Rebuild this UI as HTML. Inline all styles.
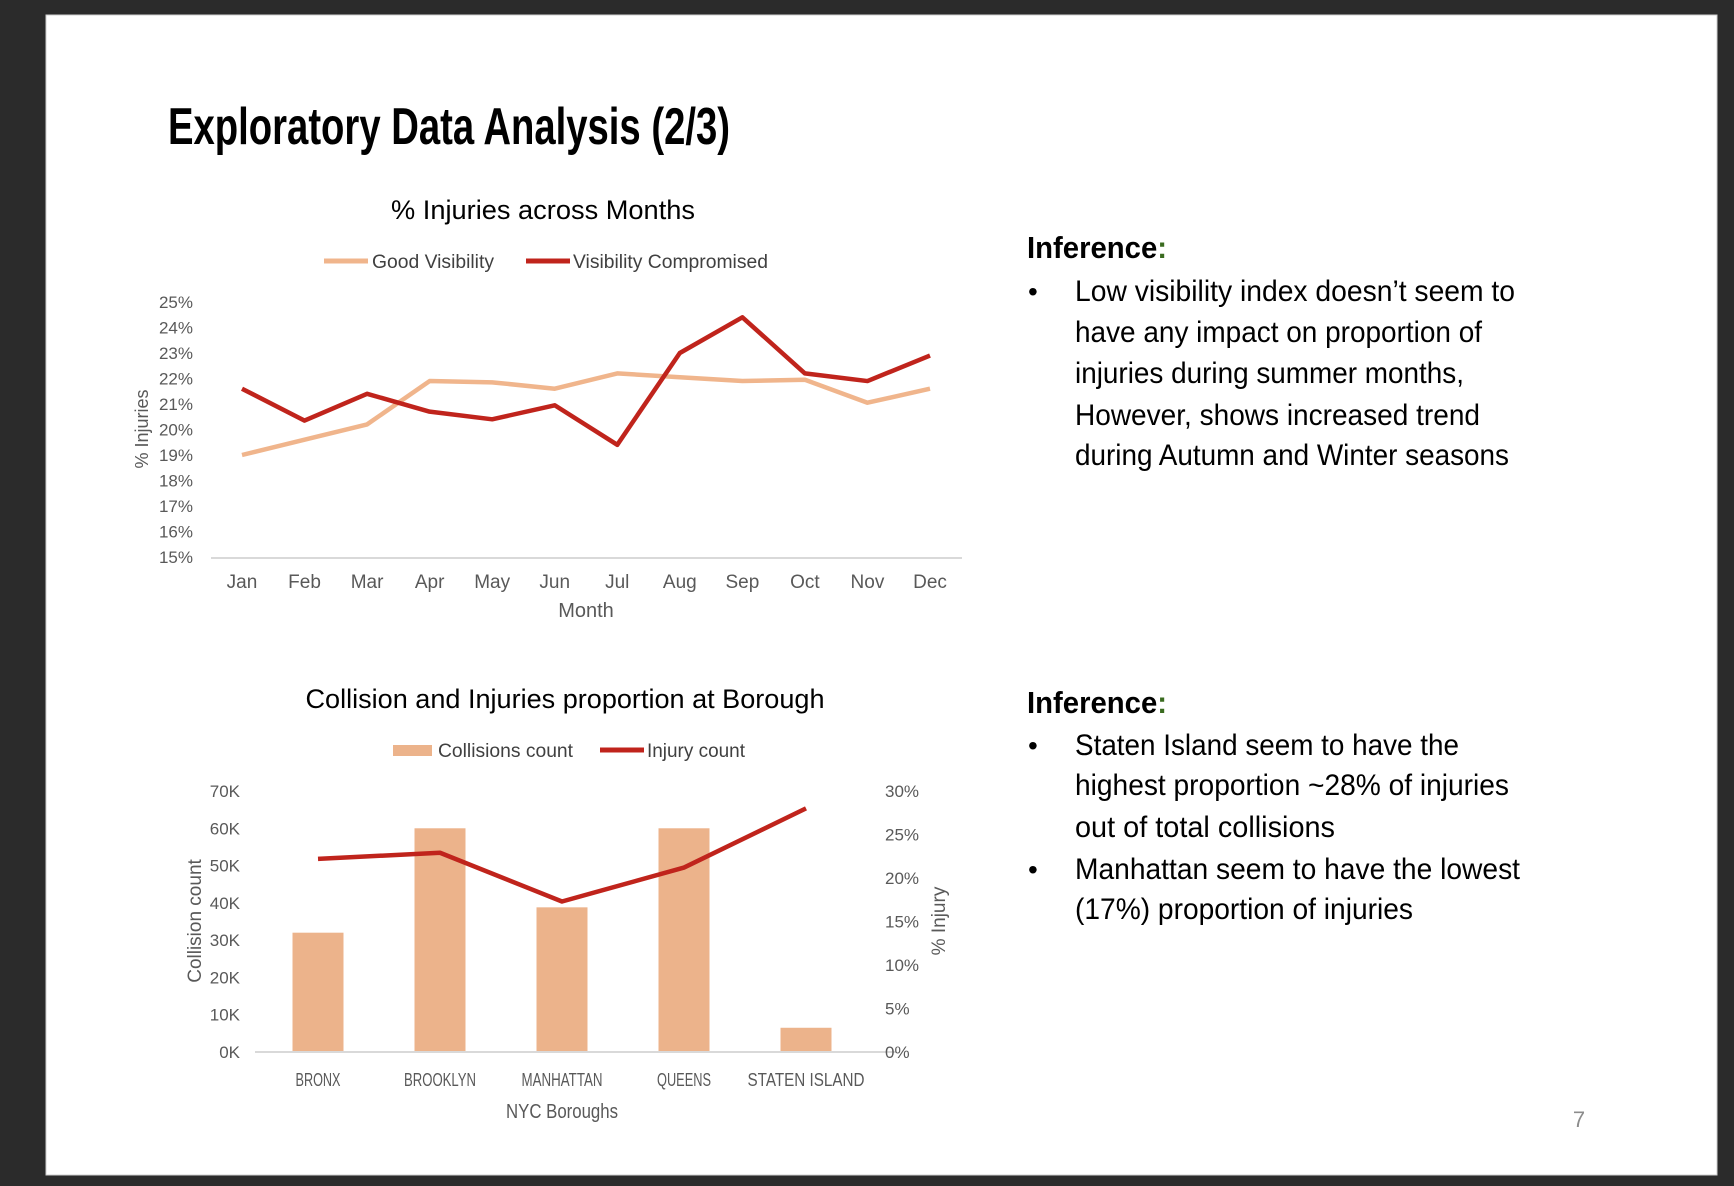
<!DOCTYPE html>
<html><head><meta charset="utf-8"><style>
html,body{margin:0;padding:0;background:#2b2b2b;}
svg{display:block;}
text{font-family:"Liberation Sans Narrow","Liberation Sans",sans-serif;}
</style></head><body>
<svg id="page" width="1734" height="1186" viewBox="0 0 1734 1186" xmlns="http://www.w3.org/2000/svg">
<rect x="0" y="0" width="1734" height="1186" fill="#2b2b2b"/>
<rect x="46" y="15" width="1671" height="1160" fill="#ffffff" stroke="#cfcfcf" stroke-width="1"/>
<text x="168" y="144" font-size="52" font-weight="bold" fill="#000" textLength="562" lengthAdjust="spacingAndGlyphs">Exploratory Data Analysis (2/3)</text>

<g id="chart1">
<text x="543" y="219" font-size="27" text-anchor="middle" fill="#000" textLength="304" lengthAdjust="spacingAndGlyphs">% Injuries across Months</text>
<line x1="324" y1="261" x2="368" y2="261" stroke="#F0B58C" stroke-width="5"/>
<text x="372" y="268" font-size="19" fill="#404040" textLength="122" lengthAdjust="spacingAndGlyphs">Good Visibility</text>
<line x1="526" y1="261" x2="570" y2="261" stroke="#C0241C" stroke-width="5"/>
<text x="573" y="268" font-size="19" fill="#404040" textLength="195" lengthAdjust="spacingAndGlyphs">Visibility Compromised</text>
<line x1="211" y1="558" x2="962" y2="558" stroke="#d9d9d9" stroke-width="2"/>
<text transform="translate(148,429) rotate(-90)" font-size="18" text-anchor="middle" fill="#595959">% Injuries</text>
<text x="586" y="617" font-size="20" text-anchor="middle" fill="#595959">Month</text>
<g id="c1y"></g><g id="c1x"></g><g id="c1lines"></g>
</g>

<g id="chart2">
<text x="565" y="708" font-size="27" text-anchor="middle" fill="#000" textLength="519" lengthAdjust="spacingAndGlyphs">Collision and Injuries proportion at Borough</text>
<rect x="393" y="745" width="39" height="11" fill="#ECB38B"/>
<text x="438" y="757" font-size="19" fill="#404040" textLength="135" lengthAdjust="spacingAndGlyphs">Collisions count</text>
<line x1="600" y1="750" x2="644" y2="750" stroke="#C0241C" stroke-width="5"/>
<text x="647" y="757" font-size="19" fill="#404040" textLength="98" lengthAdjust="spacingAndGlyphs">Injury count</text>
<text transform="translate(201,921) rotate(-90)" font-size="19" text-anchor="middle" fill="#595959">Collision count</text>
<text transform="translate(945,921) rotate(-90)" font-size="19" text-anchor="middle" fill="#595959">% Injury</text>
<text x="562" y="1118" font-size="20" text-anchor="middle" fill="#595959" textLength="112" lengthAdjust="spacingAndGlyphs">NYC Boroughs</text>
<g id="c2bars"></g>
<line x1="255" y1="1052" x2="896" y2="1052" stroke="#d9d9d9" stroke-width="2"/>
<g id="c2y"></g><g id="c2x"></g><g id="c2line"></g>
</g>

<g fill="#000">
<text x="1027" y="258" font-size="31" font-weight="bold" textLength="140" lengthAdjust="spacingAndGlyphs">Inference<tspan fill="#3a6b1f">:</tspan></text>
<text x="1028" y="301" font-size="28">•</text>
<text x="1075" y="301" font-size="30" textLength="440" lengthAdjust="spacingAndGlyphs">Low visibility index doesn’t seem to</text>
<text x="1075" y="342" font-size="30" textLength="407" lengthAdjust="spacingAndGlyphs">have any impact on proportion of</text>
<text x="1075" y="383" font-size="30" textLength="389" lengthAdjust="spacingAndGlyphs">injuries during summer months,</text>
<text x="1075" y="425" font-size="30" textLength="405" lengthAdjust="spacingAndGlyphs">However, shows increased trend</text>
<text x="1075" y="465" font-size="30" textLength="434" lengthAdjust="spacingAndGlyphs">during Autumn and Winter seasons</text>
</g>
<g fill="#000">
<text x="1027" y="713" font-size="31" font-weight="bold" textLength="140" lengthAdjust="spacingAndGlyphs">Inference<tspan fill="#3a6b1f">:</tspan></text>
<text x="1028" y="755" font-size="28">•</text>
<text x="1075" y="755" font-size="30" textLength="384" lengthAdjust="spacingAndGlyphs">Staten Island seem to have the</text>
<text x="1075" y="795" font-size="30" textLength="434" lengthAdjust="spacingAndGlyphs">highest proportion ~28% of injuries</text>
<text x="1075" y="837" font-size="30" textLength="260" lengthAdjust="spacingAndGlyphs">out of total collisions</text>
<text x="1028" y="879" font-size="28">•</text>
<text x="1075" y="879" font-size="30" textLength="445" lengthAdjust="spacingAndGlyphs">Manhattan seem to have the lowest</text>
<text x="1075" y="919" font-size="30" textLength="338" lengthAdjust="spacingAndGlyphs">(17%) proportion of injuries</text>
</g>
<text x="1579" y="1127" font-size="22" text-anchor="middle" fill="#8c8c8c">7</text>
</svg>
<script>
const months = ["Jan","Feb","Mar","Apr","May","Jun","Jul","Aug","Sep","Oct","Nov","Dec"];
const goodVisibility = [19.0,19.6,20.2,21.9,21.85,21.6,22.2,22.05,21.9,21.95,21.05,21.6];
const visibilityCompromised = [21.6,20.35,21.4,20.7,20.4,20.95,19.4,23.0,24.4,22.2,21.9,22.9];
const pctTicks = [15,16,17,18,19,20,21,22,23,24,25];
const boroughs = ["BRONX","BROOKLYN","MANHATTAN","QUEENS","STATEN ISLAND"];
const collisions = [32000,60000,38800,60000,6500];
const injuryPct = [22.2,22.9,17.3,21.2,28.0];
const countTicks = [0,10000,20000,30000,40000,50000,60000,70000];
const injTicks = [0,5,10,15,20,25,30];

const NS="http://www.w3.org/2000/svg";
function mk(tag, attrs, parent, txt){const e=document.createElementNS(NS,tag);for(const k in attrs)e.setAttribute(k,attrs[k]);if(txt!==undefined)e.textContent=txt;parent.appendChild(e);return e;}

const y1 = v => 557 - (v-15)/(25-15)*(557-302);
const x1 = i => 242 + i*(930-242)/(months.length-1);
const g1y=document.getElementById('c1y');
pctTicks.forEach(t=>{const e=mk('text',{x:193,y:y1(t)+6,'font-size':17,'text-anchor':'end',fill:'#595959'},g1y,t+'%');

});
const g1x=document.getElementById('c1x');
months.forEach((m,i)=>{const e=mk('text',{x:x1(i),y:588,'font-size':19,'text-anchor':'middle',fill:'#595959'},g1x,m);

});
const g1l=document.getElementById('c1lines');
const p1=mk('polyline',{points:goodVisibility.map((v,i)=>x1(i)+','+y1(v)).join(' '),fill:'none',stroke:'#F0B58C','stroke-width':4.5,'stroke-linejoin':'round'},g1l);


const p2=mk('polyline',{points:visibilityCompromised.map((v,i)=>x1(i)+','+y1(v)).join(' '),fill:'none',stroke:'#C0241C','stroke-width':4.5,'stroke-linejoin':'round'},g1l);



const yc = v => 1052 - v/70000*(1052-791);
const yp = v => 1052 - v/30*(1052-791);
const x2 = i => 318 + i*122;
const g2b=document.getElementById('c2bars');
collisions.forEach((v,i)=>{const r=mk('rect',{x:x2(i)-25.5,y:yc(v),width:51,height:1052-yc(v),fill:'#ECB38B'},g2b);

});
const g2y=document.getElementById('c2y');
countTicks.forEach(t=>{const e=mk('text',{x:240,y:yc(t)+6,'font-size':17,'text-anchor':'end',fill:'#595959'},g2y,(t/1000)+'K');

});
injTicks.forEach(t=>{const e=mk('text',{x:885,y:yp(t)+6,'font-size':17,'text-anchor':'start',fill:'#595959'},g2y,t+'%');

});
const g2x=document.getElementById('c2x');
boroughs.forEach((b,i)=>{const e=mk('text',{x:x2(i),y:1086,'font-size':18,'text-anchor':'middle',fill:'#595959',textLength:b.length*9,lengthAdjust:'spacingAndGlyphs'},g2x,b);

});
const g2l=document.getElementById('c2line');
const p3=mk('polyline',{points:injuryPct.map((v,i)=>x2(i)+','+yp(v)).join(' '),fill:'none',stroke:'#C0241C','stroke-width':4.5,'stroke-linejoin':'round'},g2l);


</script>
</body></html>
